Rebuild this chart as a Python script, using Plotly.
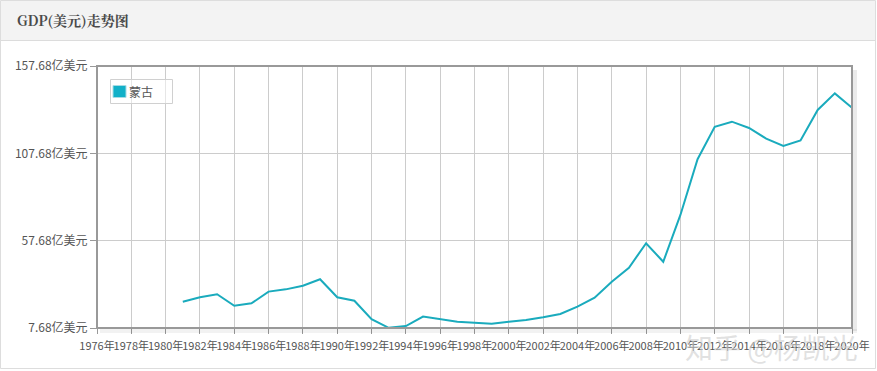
import plotly.graph_objects as go

years = list(range(1981, 2021))
gdp = [22.7, 25.3, 27.0, 20.4, 21.8, 28.5, 29.8, 31.9, 35.6, 25.3,
       23.3, 12.7, 7.8, 8.8, 14.2, 12.8, 11.3, 10.7, 10.1, 11.3,
       12.3, 13.8, 15.7, 19.9, 25.0, 34.2, 42.2, 56.2, 45.6, 72.4,
       104.3, 122.9, 125.8, 122.2, 116.1, 111.9, 115.1, 132.5, 142.0, 133.8]
series_name = "蒙古"
x_ticks = list(range(1976, 2021, 2))
x_tick_text = [f"{y}年" for y in x_ticks]
y_ticks = [7.68, 57.68, 107.68, 157.68]
y_tick_text = [f"{v:.2f}亿美元" for v in y_ticks]

W, H = 877, 371
L, R, T, B = 97, 25, 66, 43
PW, PH = W - L - R, H - T - B

def px(x):
    return (x - L) / PW

def py(y):
    return (H - B - y) / PH

line_color = "#1aabbd"
fig = go.Figure()
fig.add_trace(go.Scatter(x=years, y=gdp, mode="lines",
                         line=dict(color=line_color, width=2),
                         showlegend=False, name=series_name))

shapes = [
    # panel border
    dict(type="rect", xref="paper", yref="paper", x0=px(0.5), x1=px(875.5),
         y0=py(368.5), y1=py(0.5), line=dict(color="#dddddd", width=1),
         fillcolor="white", layer="below"),
    # header
    dict(type="rect", xref="paper", yref="paper", x0=px(1), x1=px(875),
         y0=py(40), y1=py(1), line=dict(width=0), fillcolor="#f3f3f3", layer="below"),
    dict(type="line", xref="paper", yref="paper", x0=px(1), x1=px(875),
         y0=py(40.5), y1=py(40.5), line=dict(color="#dcdcdc", width=1)),
    # shadow
    dict(type="rect", xref="paper", yref="paper", x0=px(853), x1=px(857),
         y0=py(331), y1=py(70), line=dict(width=0), fillcolor="rgba(0,0,0,0.08)"),
    dict(type="rect", xref="paper", yref="paper", x0=px(100), x1=px(857),
         y0=py(333), y1=py(329), line=dict(width=0), fillcolor="rgba(0,0,0,0.05)"),
    # frame
    dict(type="rect", xref="paper", yref="paper", x0=0, x1=1, y0=0, y1=1,
         line=dict(color="#999999", width=2)),
    # legend box
    dict(type="rect", xref="paper", yref="paper", x0=px(110.5), x1=px(172.5),
         y0=py(103.5), y1=py(79.5), line=dict(color="#d0d0d0", width=1),
         fillcolor="rgba(255,255,255,0.5)"),
    # legend swatch
    dict(type="rect", xref="paper", yref="paper", x0=px(113), x1=px(126),
         y0=py(97.5), y1=py(85.5), line=dict(color="#a8dce4", width=1),
         fillcolor="#12b0c8"),
]

fig.update_layout(
    width=W, height=H,
    margin=dict(l=L, r=R, t=T, b=B),
    paper_bgcolor="white",
    plot_bgcolor="#fefcf3",
    font=dict(family="Noto Sans CJK SC, sans-serif", color="#555555", size=12),
    shapes=shapes,
    showlegend=False,
    annotations=[
        dict(text="<b>GDP(美元)走势图</b>", xref="paper", yref="paper",
             x=px(15), y=py(20), xanchor="left", yanchor="middle", showarrow=False,
             font=dict(size=14, color="#4a4a4a", family="Noto Serif CJK SC, Noto Sans CJK SC, serif")),
        dict(text=series_name, xref="paper", yref="paper",
             x=px(126.5), y=py(91.5), xanchor="left", yanchor="middle", showarrow=False,
             font=dict(size=12, color="#555555")),
        dict(text="知乎 @杨凯光", xref="paper", yref="paper",
             x=px(771), y=py(347), xanchor="center", yanchor="middle", showarrow=False,
             font=dict(size=28, color="rgba(205,205,205,0.6)")),
    ],
    xaxis=dict(range=[1976, 2020], tickmode="array", tickvals=x_ticks, ticktext=x_tick_text,
               showgrid=True, gridcolor="#cccccc", gridwidth=1, zeroline=False,
               ticks="outside", ticklen=5, tickcolor="#999999", tickangle=0,
               ticklabelstandoff=3,
               tickfont=dict(size=11, color="#555555"), showline=False, automargin=False),
    yaxis=dict(range=[7.68, 157.68], tickmode="array", tickvals=y_ticks, ticktext=y_tick_text,
               showgrid=True, gridcolor="#cccccc", gridwidth=1, zeroline=False,
               ticks="outside", ticklen=6, tickcolor="#999999",
               tickfont=dict(size=12, color="#555555"), showline=False, automargin=False),
)

fig.write_html("out.html")
